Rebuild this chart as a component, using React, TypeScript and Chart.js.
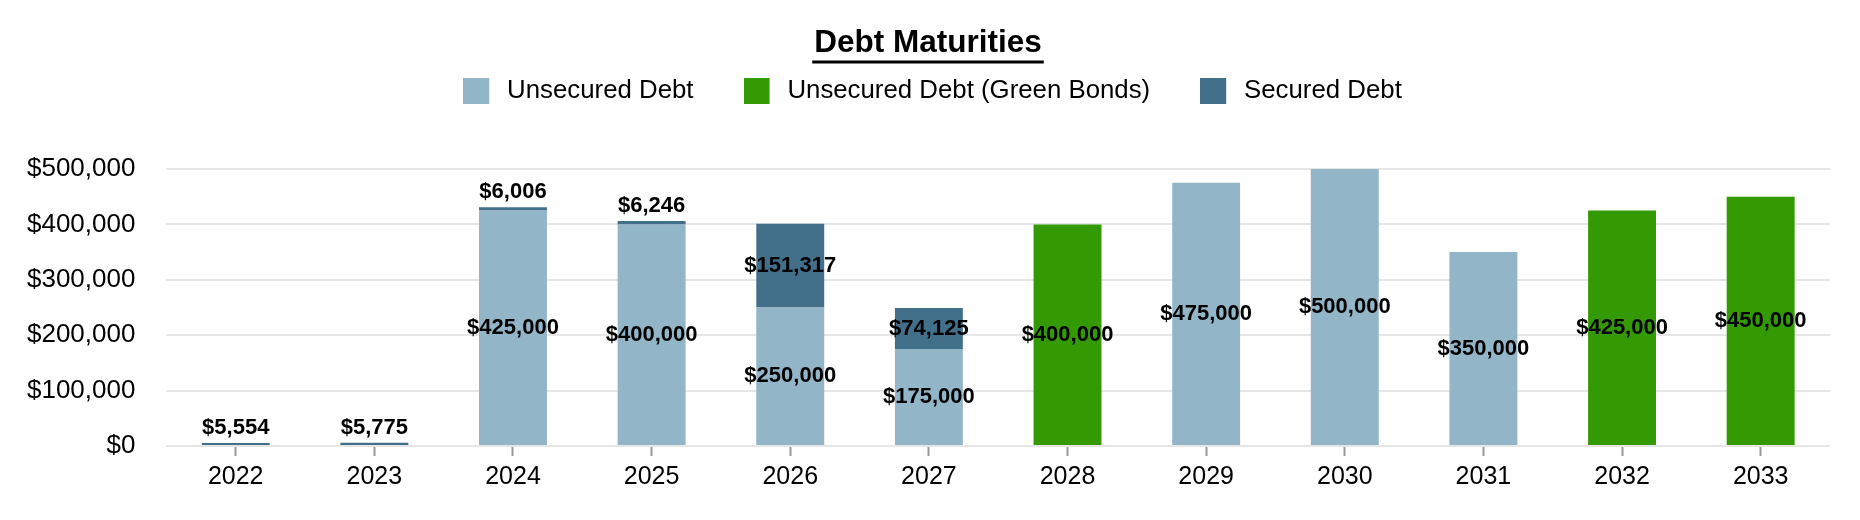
import React, { useEffect, useRef } from "react";
import { Chart, registerables } from "chart.js";

Chart.register(...registerables);

const years = ["2022", "2023", "2024", "2025", "2026", "2027", "2028", "2029", "2030", "2031", "2032", "2033"];
const unsecuredDebt = [null, null, 425000, 400000, 250000, 175000, null, 475000, 500000, 350000, null, null];
const greenBonds = [null, null, null, null, null, null, 400000, null, null, null, 425000, 450000];
const securedDebt = [5554, 5775, 6006, 6246, 151317, 74125, null, null, null, null, null, null];
const yTicks = [0, 100000, 200000, 300000, 400000, 500000];

const FONT = "'Liberation Sans', Arial, Helvetica, sans-serif";
const TITLE_SIZE = 31.5;

const money = (v: number) => "$" + v.toLocaleString("en-US");

// legend swatch: 26px square with a bit of empty room on its right
const swatch = (color: string) => {
  const c = document.createElement("canvas");
  c.width = 31;
  c.height = 26;
  const g = c.getContext("2d")!;
  g.fillStyle = color;
  g.fillRect(0, 0, 26, 26);
  return c;
};

// values on the bars: centred, or above the bar when it is too thin
const barLabels = {
  id: "barLabels",
  afterDatasetsDraw(chart: any) {
    const { ctx } = chart;
    ctx.save();
    ctx.font = `bold 22px ${FONT}`;
    ctx.fillStyle = "#000";
    ctx.textAlign = "center";
    chart.data.datasets.forEach((ds: any, i: number) => {
      const meta = chart.getDatasetMeta(i);
      meta.data.forEach((bar: any, j: number) => {
        const v = ds.data[j];
        if (!v) return;
        const { x, y, base } = bar.getProps(["x", "y", "base"], true);
        if (base - y < 25) {
          ctx.textBaseline = "alphabetic";
          ctx.fillText(money(v), x, y - 9);
        } else {
          ctx.textBaseline = "middle";
          ctx.fillText(money(v), x, (y + base) / 2);
        }
      });
    });
    ctx.restore();
  },
};

// underline under the title
const titleUnderline = {
  id: "titleUnderline",
  afterDraw(chart: any) {
    const t = chart.titleBlock;
    if (!t) return;
    const { ctx } = chart;
    ctx.save();
    ctx.font = `bold ${TITLE_SIZE}px ${FONT}`;
    const w = ctx.measureText(t.options.text).width;
    const cx = (t.left + t.right) / 2;
    const y = t.top + 62;
    ctx.fillStyle = "#000";
    ctx.fillRect(cx - w / 2 - 2, y - 1.5, w + 4, 3);
    ctx.restore();
  },
};

// extra room between legend and plot, legend nudged a little to the right
const legendGap = {
  id: "legendGap",
  beforeInit(chart: any) {
    const legend = chart.legend;
    const fit = legend.fit;
    legend.fit = function () {
      fit.call(this);
      this.height += 55.2;
    };
    const draw = legend.draw;
    legend.draw = function () {
      this.ctx.save();
      this.ctx.translate(4.5, 0);
      draw.call(this);
      this.ctx.restore();
    };
  },
};

const DebtChart: React.FC = () => {
  const canvasRef = useRef<HTMLCanvasElement | null>(null);

  useEffect(() => {
    if (!canvasRef.current) return;

    const chart = new Chart(canvasRef.current, {
      type: "bar",
      data: {
        labels: years,
        datasets: [
          { label: "Unsecured Debt", data: unsecuredDebt, backgroundColor: "#93b5c8", borderWidth: 0, stack: "debt" },
          { label: "Unsecured Debt (Green Bonds)", data: greenBonds, backgroundColor: "#339a03", borderWidth: 0, stack: "debt" },
          { label: "Secured Debt", data: securedDebt, backgroundColor: "#426f8a", borderWidth: 0, stack: "debt" },
        ],
      },
      options: {
        animation: false,
        responsive: true,
        maintainAspectRatio: false,
        categoryPercentage: 1,
        barPercentage: 0.49,
        layout: { padding: { top: 0, left: 26, right: 30, bottom: 22 } },
        plugins: {
          title: {
            display: true,
            text: "Debt Maturities",
            color: "#000",
            font: { family: FONT, size: TITLE_SIZE, weight: "bold" },
            padding: { top: 24.1, bottom: -33.9 },
          },
          legend: {
            display: true,
            position: "top",
            labels: {
              color: "#000",
              font: { family: FONT, size: 25.8 },
              usePointStyle: true,
              pointStyleWidth: 31,
              boxHeight: 26,
              padding: 50,
              generateLabels: (c: any) =>
                (Chart.defaults.plugins.legend.labels as any).generateLabels(c).map((item: any) => ({
                  ...item,
                  pointStyle: swatch(item.fillStyle),
                })),
            },
          },
          tooltip: { enabled: false },
        },
        scales: {
          x: {
            stacked: true,
            grid: {
              display: true,
              drawOnChartArea: false,
              offset: false,
              tickLength: 10,
              color: "#999",
              tickColor: "#999",
              tickWidth: 2,
            },
            border: { display: false },
            ticks: { color: "#000", font: { family: FONT, size: 25 }, padding: 6 },
          },
          y: {
            stacked: true,
            min: 0,
            max: 500000,
            afterBuildTicks: (scale: any) => {
              scale.ticks = yTicks.map((value) => ({ value }));
            },
            afterFit: (scale: any) => {
              scale.width = 140.4;
            },
            grid: { color: "#e6e6e6", lineWidth: 2, drawTicks: false },
            border: { display: false },
            ticks: {
              color: "#000",
              font: { family: FONT, size: 26 },
              padding: 31,
              callback: (v: any) => money(Number(v)),
            },
          },
        },
      } as any,
      plugins: [legendGap, barLabels, titleUnderline],
    });

    return () => {
      chart.destroy();
    };
  }, []);

  return (
    <div style={{ position: "fixed", left: 0, top: 0, width: 1860, height: 520, background: "#fff" }}>
      <canvas ref={canvasRef} />
    </div>
  );
};

export default function App() {
  return <DebtChart />;
}
